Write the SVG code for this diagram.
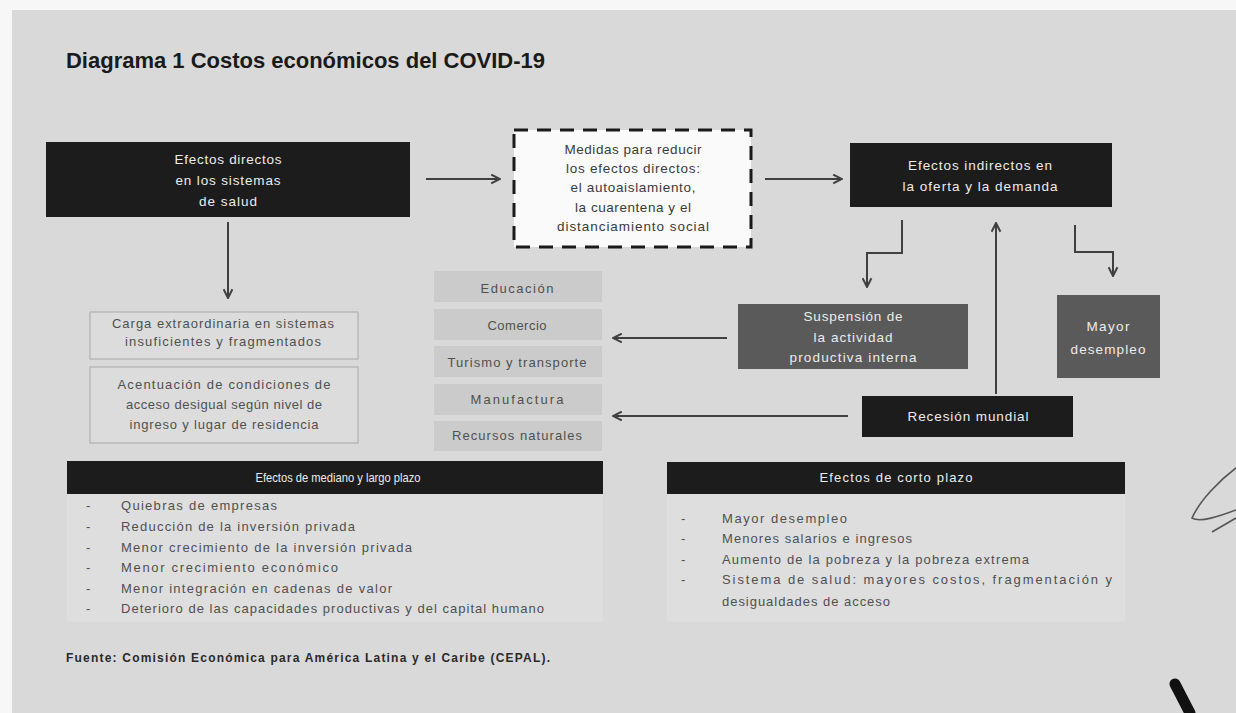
<svg xmlns="http://www.w3.org/2000/svg" width="1236" height="713" viewBox="0 0 1236 713">
<style>
.t{font-family:"Liberation Sans",Arial,sans-serif}
.w{fill:#ececec;font-size:13.5px}
.k{fill:#3a3a3a;font-size:13.5px}
.l{fill:#505050;font-size:13px}
.blk{fill:#1c1c1c}
.gry{fill:#5a5a5a}
.sec{fill:#cbcbcb}
.ob{fill:#dcdcdc;stroke:#a8a8a8;stroke-width:1}
.cn{fill:none;stroke:#404040;stroke-width:2}
</style>
<defs>
<marker id="ah" viewBox="0 0 10 10" refX="9" refY="5" markerWidth="11" markerHeight="11" markerUnits="userSpaceOnUse" orient="auto">
<path d="M1,1 L9,5 L1,9" fill="none" stroke="#404040" stroke-width="1.8"/>
</marker>
</defs>
<rect x="0" y="0" width="1236" height="713" fill="#f7f7f7"/>
<rect x="12" y="10" width="1224" height="703" fill="#d9d9d9"/>

<g id="title">
<text class="t" x="66" y="68" font-size="22" font-weight="bold" fill="#1a1a1a" textLength="479">Diagrama 1  Costos económicos del COVID-19</text>
</g>

<g id="node-directos">
<rect class="blk" x="46" y="142" width="364" height="75"/>
<text class="t w" x="228" y="164" text-anchor="middle" textLength="107">Efectos directos</text>
<text class="t w" x="228" y="185" text-anchor="middle" textLength="105">en los sistemas</text>
<text class="t w" x="228" y="206" text-anchor="middle" textLength="58">de salud</text>
</g>

<g id="node-medidas">
<rect x="514" y="130" width="237" height="117" fill="#fafafa" stroke="#1a1a1a" stroke-width="3" stroke-dasharray="14 9"/>
<text class="t k" x="633" y="154" text-anchor="middle" textLength="137">Medidas para reducir</text>
<text class="t k" x="633" y="173" text-anchor="middle" textLength="134">los efectos directos:</text>
<text class="t k" x="633" y="192" text-anchor="middle" textLength="125">el autoaislamiento,</text>
<text class="t k" x="633" y="212" text-anchor="middle" textLength="116">la cuarentena y el</text>
<text class="t k" x="633" y="231" text-anchor="middle" textLength="152">distanciamiento social</text>
</g>

<g id="node-indirectos">
<rect class="blk" x="850" y="143" width="262" height="64"/>
<text class="t w" x="980" y="170" text-anchor="middle" textLength="144">Efectos indirectos en</text>
<text class="t w" x="980" y="191" text-anchor="middle" textLength="155">la oferta y la demanda</text>
</g>

<g id="node-carga">
<rect class="ob" x="90" y="312" width="268" height="47"/>
<text class="t l" x="223" y="328" text-anchor="middle" textLength="222">Carga extraordinaria en sistemas</text>
<text class="t l" x="223" y="346" text-anchor="middle" textLength="196">insuficientes y fragmentados</text>
</g>

<g id="node-acentuacion">
<rect class="ob" x="90" y="367" width="268" height="76"/>
<text class="t l" x="224" y="389" text-anchor="middle" textLength="213">Acentuación de condiciones de</text>
<text class="t l" x="224" y="409" text-anchor="middle" textLength="196">acceso desigual según nivel de</text>
<text class="t l" x="224" y="429" text-anchor="middle" textLength="189">ingreso y lugar de residencia</text>
</g>

<g id="node-sectores">
<rect class="sec" x="434" y="271" width="168" height="31"/>
<rect class="sec" x="434" y="309" width="168" height="31"/>
<rect class="sec" x="434" y="346" width="168" height="31"/>
<rect class="sec" x="434" y="384" width="168" height="31"/>
<rect class="sec" x="434" y="421" width="168" height="30"/>
<text class="t l" x="517" y="293" text-anchor="middle" textLength="73">Educación</text>
<text class="t l" x="517" y="330" text-anchor="middle" textLength="59">Comercio</text>
<text class="t l" x="517" y="367" text-anchor="middle" textLength="139">Turismo y transporte</text>
<text class="t l" x="517" y="404" text-anchor="middle" textLength="93">Manufactura</text>
<text class="t l" x="517" y="440" text-anchor="middle" textLength="130">Recursos naturales</text>
</g>

<g id="node-suspension">
<rect class="gry" x="738" y="304" width="230" height="65"/>
<text class="t w" x="853" y="321" text-anchor="middle" textLength="99">Suspensión de</text>
<text class="t w" x="853" y="342" text-anchor="middle" textLength="79">la actividad</text>
<text class="t w" x="853" y="362" text-anchor="middle" textLength="127">productiva interna</text>
</g>

<g id="node-desempleo">
<rect class="gry" x="1057" y="295" width="103" height="83"/>
<text class="t w" x="1108" y="331" text-anchor="middle" textLength="43">Mayor</text>
<text class="t w" x="1108" y="354" text-anchor="middle" textLength="75">desempleo</text>
</g>

<g id="node-recesion">
<rect class="blk" x="862" y="396" width="211" height="41"/>
<text class="t w" x="968" y="421" text-anchor="middle" textLength="121">Recesión mundial</text>
</g>

<g id="node-mediano">
<rect x="67" y="494" width="536" height="128" fill="#dedede"/>
<rect class="blk" x="67" y="461" width="536" height="33"/>
<text class="t" x="338" y="482" text-anchor="middle" font-size="13" fill="#ececec" textLength="165" lengthAdjust="spacingAndGlyphs">Efectos de mediano y largo plazo</text>
<g class="t l">
<text x="86" y="510">-</text><text x="121" y="510" textLength="156">Quiebras de empresas</text>
<text x="86" y="531">-</text><text x="121" y="531" textLength="234">Reducción de la inversión privada</text>
<text x="86" y="552">-</text><text x="121" y="552" textLength="291">Menor crecimiento de la inversión privada</text>
<text x="86" y="572">-</text><text x="121" y="572" textLength="217">Menor crecimiento económico</text>
<text x="86" y="593">-</text><text x="121" y="593" textLength="271">Menor integración en cadenas de valor</text>
<text x="86" y="613">-</text><text x="121" y="613" textLength="423">Deterioro de las capacidades productivas y del capital humano</text>
</g>
</g>

<g id="node-corto">
<rect x="667" y="494" width="458" height="128" fill="#dedede"/>
<rect class="blk" x="667" y="462" width="458" height="32"/>
<text class="t" x="896" y="482" text-anchor="middle" font-size="13" fill="#ececec" textLength="153">Efectos de corto plazo</text>
<g class="t l">
<text x="681" y="523">-</text><text x="722" y="523" textLength="125">Mayor desempleo</text>
<text x="681" y="543">-</text><text x="722" y="543" textLength="190">Menores salarios e ingresos</text>
<text x="681" y="564">-</text><text x="722" y="564" textLength="307">Aumento de la pobreza y la pobreza extrema</text>
<text x="681" y="584">-</text><text x="722" y="584" textLength="390">Sistema de salud: mayores costos, fragmentación y</text>
<text x="722" y="606" textLength="168">desigualdades de acceso</text>
</g>
</g>

<g id="connectors">
<path class="cn" d="M426,179 H500" marker-end="url(#ah)"/>
<path class="cn" d="M765,179 H842" marker-end="url(#ah)"/>
<path class="cn" d="M228,222 V298" marker-end="url(#ah)"/>
<path class="cn" d="M902,220 V253 H867 V287" marker-end="url(#ah)"/>
<path class="cn" d="M996,394 V223" marker-end="url(#ah)"/>
<path class="cn" d="M1075,225 V252 H1113 V276" marker-end="url(#ah)"/>
<path class="cn" d="M727,338 H613" marker-end="url(#ah)"/>
<path class="cn" d="M848,416 H613" marker-end="url(#ah)"/>
</g>

<g id="footer">
<text class="t" x="66" y="662" font-size="12" font-weight="bold" fill="#2a2a2a" textLength="484">Fuente: Comisión Económica para América Latina y el Caribe (CEPAL).</text>
</g>

<g id="marks">
<path d="M1236,468 C1220,480 1200,500 1192,518 C1200,523 1220,516 1236,510 M1212,532 L1236,518" fill="none" stroke="#555" stroke-width="1.6"/>
<path d="M1175,684 L1190,713" fill="none" stroke="#111" stroke-width="11" stroke-linecap="round"/>
</g>
</svg>
